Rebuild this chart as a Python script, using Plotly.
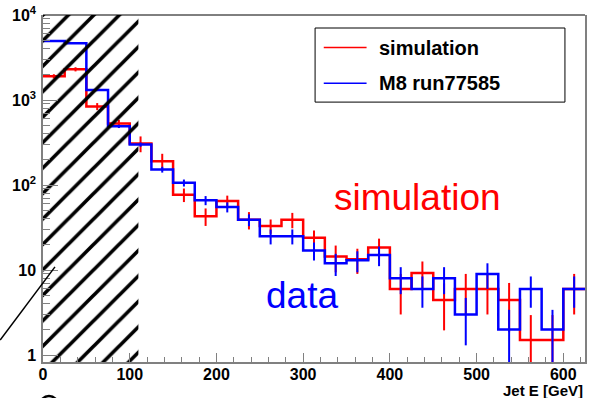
import plotly.graph_objects as go

# ---------------- data ----------------
bin_edges = [0, 25, 50, 75, 100, 125, 150, 175, 200, 225, 250, 275, 300, 325,
             350, 375, 400, 425, 450, 475, 500, 525, 550, 575, 600, 625]

sim_values = [1900, 2300, 840, 530, 308, 190, 77, 43, 65, 39, 33, 39, 24, 14.4,
              13.4, 18.4, 6.0, 9.2, 4.45, 6.0, 6.0, 4.45, 1.5, 1.5, 6.0]
sim_errors = [110, 130, 80, 55, 65, 43, 14, 10, 10, 9, 6.3, 8, 5.2, 5,
              4.4, 5, 3, 3.4, 2.5, 3, 3, 2.6, 1.45, 1.45, 3]

data_values = [4950, 4650, 1310, 490, 299, 152, 106, 66, 55, 39, 25, 25, 17, 12,
               13, 15, 8, 6, 8, 3, 9, 2, 6, 2, 6]
data_errors = [70, 68, 36, 22, 17, 12, 10, 8.1, 7.4, 6.2, 5, 5, 4.1, 3.5,
               3.6, 3.9, 2.8, 2.4, 2.8, 1.7, 3, 1.4, 2.4, 1.4, 2.4]

hatch_x_range = [0, 110]

x_tick_vals = [0, 100, 200, 300, 400, 500, 600]
y_tick_vals = [1, 10, 100, 1000, 10000]
y_tick_text = ["1", "10", "10<sup>2</sup>", "10<sup>3</sup>", "10<sup>4</sup>"]
y_minor_vals = [k * 10 ** e for e in range(0, 4) for k in range(2, 10)]

legend_labels = ["simulation", "M8 run77585"]

# ---------------- styling ----------------
RED = "#ff0000"
BLUE = "#0000ff"
FONT = "Liberation Sans, Arial, Helvetica, sans-serif"
X_RANGE = [0, 625]
Y_RANGE = [-0.082, 4.0]

centers = [(a + b) / 2 for a, b in zip(bin_edges[:-1], bin_edges[1:])]

fig = go.Figure()


def add_hist(values, errors, color):
    fig.add_trace(go.Scatter(
        x=bin_edges, y=values + [values[-1]], mode="lines",
        line=dict(color=color, width=2.5, shape="hv"),
        showlegend=False, hoverinfo="skip"))
    fig.add_trace(go.Scatter(
        x=centers, y=values, mode="markers",
        marker=dict(size=1, color=color),
        error_y=dict(type="data", array=errors, color=color, thickness=2, width=0),
        showlegend=False, hoverinfo="skip"))


add_hist(sim_values, sim_errors, RED)
add_hist(data_values, data_errors, BLUE)

# hatched (excluded) region
ylow = 10 ** Y_RANGE[0]
yhigh = 10 ** Y_RANGE[1]
fig.add_trace(go.Scatter(
    x=[hatch_x_range[0], hatch_x_range[1], hatch_x_range[1], hatch_x_range[0], hatch_x_range[0]],
    y=[ylow, ylow, yhigh, yhigh, ylow],
    mode="lines", line=dict(width=0, color="rgba(0,0,0,0)"),
    fill="toself", fillcolor="rgba(0,0,0,0)",
    fillpattern=dict(shape="/", fgcolor="black", fgopacity=1, bgcolor="rgba(0,0,0,0)",
                     size=18, solidity=0.2, fillmode="overlay"),
    showlegend=False, hoverinfo="skip"))

axis_gray = "#808080"
fig.update_xaxes(
    range=X_RANGE, showgrid=False, zeroline=False,
    showline=True, linecolor=axis_gray, linewidth=1.5,
    tickmode="array", tickvals=x_tick_vals,
    ticks="inside", ticklen=9, tickcolor=axis_gray, tickwidth=1,
    minor=dict(dtick=20, tick0=0, ticks="inside", ticklen=5, tickcolor=axis_gray, tickwidth=1),
    tickfont=dict(family=FONT, size=16, color="black", weight="bold"),
    ticklabelstandoff=-3,
)
fig.update_yaxes(
    type="log", range=Y_RANGE, showgrid=False, zeroline=False,
    showline=True, linecolor=axis_gray, linewidth=1.5, mirror=True,
    tickmode="array", tickvals=y_tick_vals, ticktext=y_tick_text,
    ticks="inside", ticklen=15, tickcolor=axis_gray, tickwidth=1,
    minor=dict(tickmode="array", tickvals=y_minor_vals, ticks="inside", ticklen=7,
               tickcolor=axis_gray, tickwidth=1),
    tickfont=dict(family=FONT, size=16, color="black", weight="bold"),
    ticklabelstandoff=2,
)

shapes = [
    # top frame line
    dict(type="line", xref="paper", yref="paper", x0=0, x1=1, y0=1, y1=1,
         line=dict(color="black", width=1)),
    # legend box
    dict(type="rect", xref="paper", yref="paper", x0=0.502, x1=0.963, y0=0.749, y1=0.9625,
         line=dict(color="black", width=1), fillcolor="white", layer="above"),
    dict(type="line", xref="paper", yref="paper", x0=0.518, x1=0.597, y0=0.906, y1=0.906,
         line=dict(color=RED, width=1.5), layer="above"),
    dict(type="line", xref="paper", yref="paper", x0=0.518, x1=0.597, y0=0.803, y1=0.803,
         line=dict(color=BLUE, width=1.5), layer="above"),
    # diagonal line bottom-left
    dict(type="line", xref="paper", yref="paper", x0=-0.079, y0=0.0634, x1=0.0221, y1=0.274,
         line=dict(color="black", width=1.5), layer="above"),
    # partial circle at bottom
    dict(type="circle", xref="paper", yref="paper", x0=-0.0055, x1=0.0276, y0=-0.15, y1=-0.098,
         line=dict(color="black", width=2.5), layer="above"),
]

annotations = [
    dict(text=legend_labels[0], xref="paper", yref="paper", x=0.616, y=0.906,
         xanchor="left", yanchor="middle", showarrow=False,
         font=dict(family=FONT, size=20, color="black", weight="bold")),
    dict(text=legend_labels[1], xref="paper", yref="paper", x=0.616, y=0.803,
         xanchor="left", yanchor="middle", showarrow=False,
         font=dict(family=FONT, size=20, color="black", weight="bold")),
    dict(text="simulation", xref="paper", yref="paper", x=0.691, y=0.4755,
         xanchor="center", yanchor="middle", showarrow=False,
         font=dict(family=FONT, size=37, color=RED)),
    dict(text="data", xref="paper", yref="paper", x=0.478, y=0.193,
         xanchor="center", yanchor="middle", showarrow=False,
         font=dict(family=FONT, size=37, color=BLUE)),
    dict(text="Jet E [GeV]", xref="paper", yref="paper", x=1.0, y=-0.081,
         xanchor="right", yanchor="middle", showarrow=False,
         font=dict(family=FONT, size=15, color="black", weight="bold")),
]

fig.update_layout(
    width=589, height=398,
    margin=dict(l=43, r=2, t=15, b=36),
    paper_bgcolor="white", plot_bgcolor="white",
    showlegend=False,
    shapes=shapes, annotations=annotations,
)

fig.write_html("out.html")
